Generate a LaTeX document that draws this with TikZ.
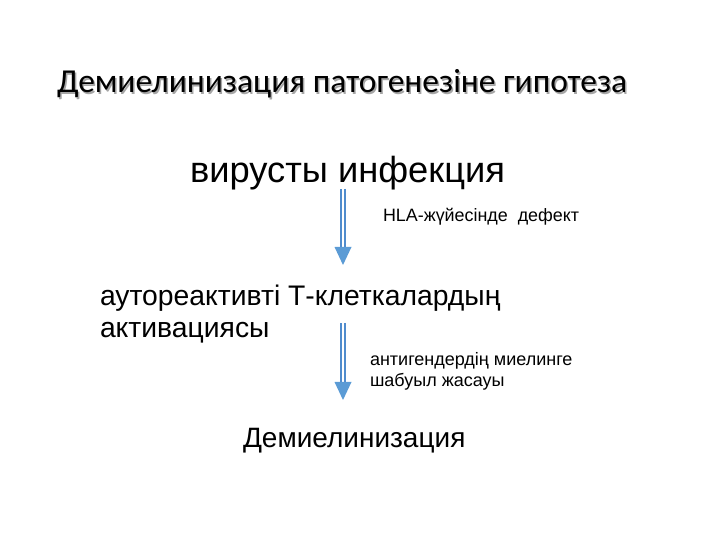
\documentclass[tikz,border=0pt]{standalone}
\usepackage{fontspec}
\setmainfont{Liberation Sans}
\newfontfamily\titlefont{Carlito}
\usetikzlibrary{arrows.meta}
\definecolor{arrowblue}{RGB}{80,140,205}
\definecolor{headblue}{RGB}{91,155,213}
\tikzset{
  txt/.style={anchor=base west, inner sep=0pt, outer sep=0pt, align=left, text=black},
  shaft/.style={draw=arrowblue, line width=1.7pt, double=white, double distance=2.4pt},
  head/.style={fill=headblue, draw=none}
}
\begin{document}
\begin{tikzpicture}[x=1pt,y=1pt]
\useasboundingbox (0,0) rectangle (720,540);
% title with shadow
\node[txt, text=black!35, font=\titlefont\fontsize{33.5}{40}\selectfont] (titleshadow) at (58.5,445.5) {Демиелинизация патогенезіне гипотеза};
\node[txt, font=\titlefont\fontsize{33.5}{40}\selectfont] (title) at (57,447) {Демиелинизация патогенезіне гипотеза};
% texts
\node[txt, font=\fontsize{36.3}{42}\selectfont] (virus) at (190,357) {вирусты инфекция};
\node[txt, font=\fontsize{17.9}{21}\selectfont] (hla) at (383,318) {HLA-жүйесінде\ \ дефект};
\node[txt, font=\fontsize{28.3}{32}\selectfont] (auto) at (100,202) {аутореактивті Т-клеткалардың\\активациясы};
\node[txt, font=\fontsize{18}{21}\selectfont] (anti) at (370,153) {антигендердің миелинге\\шабуыл жасауы};
\node[txt, font=\fontsize{28}{32}\selectfont] (demy) at (243,92) {Демиелинизация};
% arrows
\coordinate (a1s) at (343,351);
\coordinate (a1e) at (343,275);
\coordinate (a2s) at (343,217);
\coordinate (a2e) at (343,140);
\draw[shaft] (a1s) -- ([yshift=16pt]a1e);
\fill[head] ([xshift=-8.5pt,yshift=18pt]a1e) -- ([xshift=8.5pt,yshift=18pt]a1e) -- (a1e) -- cycle;
\draw[shaft] (a2s) -- ([yshift=16pt]a2e);
\fill[head] ([xshift=-8.5pt,yshift=18pt]a2e) -- ([xshift=8.5pt,yshift=18pt]a2e) -- (a2e) -- cycle;
\end{tikzpicture}
\end{document}
